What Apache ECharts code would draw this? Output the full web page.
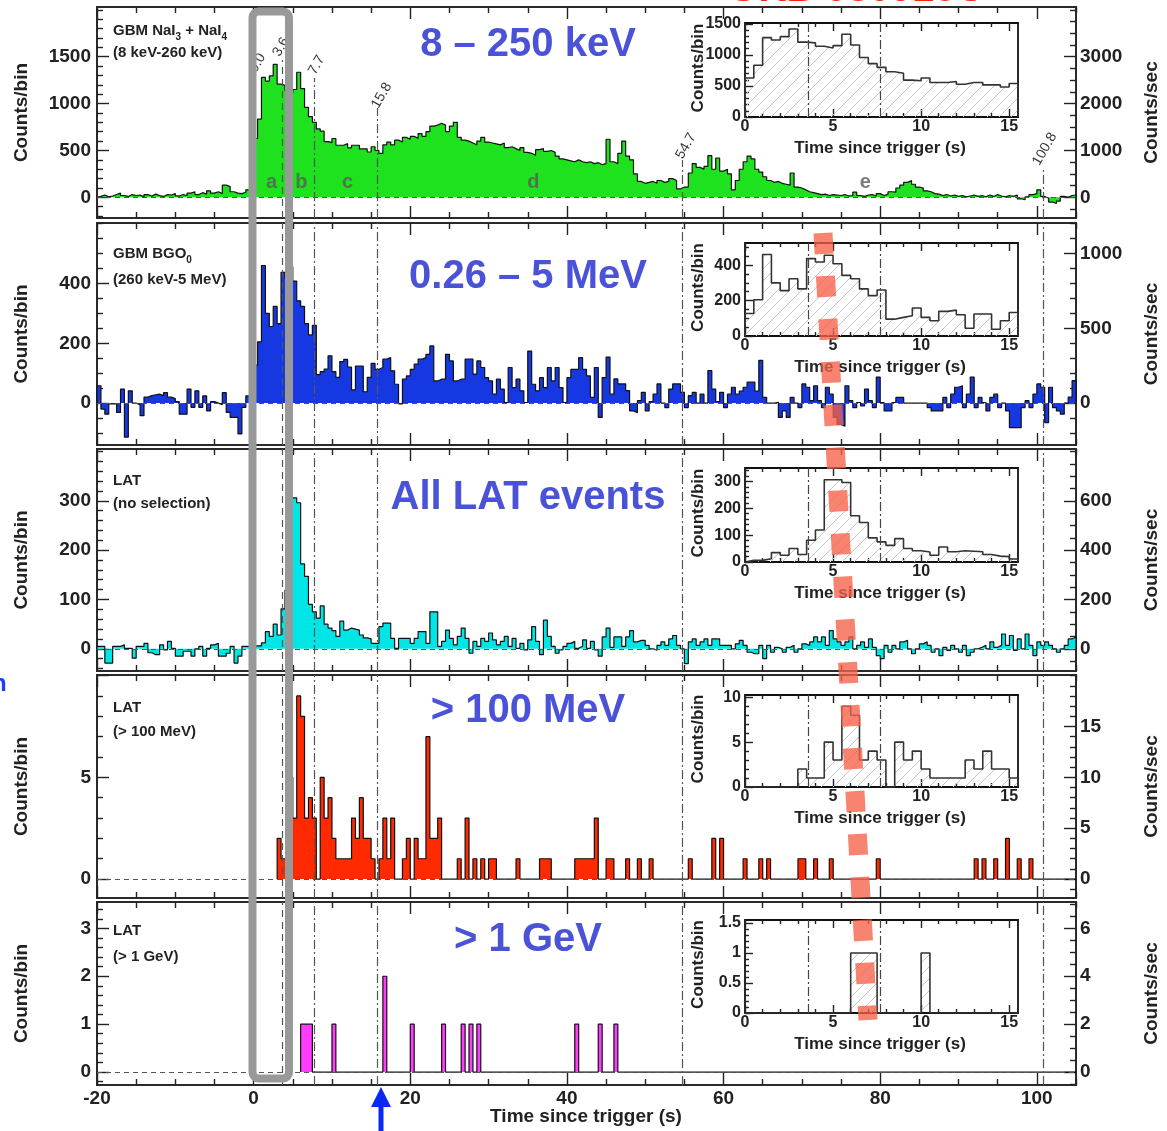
<!DOCTYPE html>
<html>
<head>
<meta charset="utf-8">
<title>GRB 080916C light curves</title>
<script src="https://cdn.jsdelivr.net/npm/echarts@6/dist/echarts.min.js"></script>
<style>
  html, body { margin: 0; padding: 0; background: #fff; }
  #main { width: 1167px; height: 1131px; }
</style>
</head>
<body>
<div id="main"></div>
<script>
// histogram bins: 0.5 s wide, first bin starts at -20 s
var binStart = -20;
var binWidth = 0.5;

// GBM NaI3 + NaI4 (8 keV - 260 keV), counts per bin
var naiCounts = [
  10, 25, 5, 15, 30, 45, 20, 10, 30, 20, 25, 5, 30, 15, 35, 20, 10, 30, 25, 40,
  15, 30, 20, 45, 60, 30, 50, 35, 70, 45, 60, 40, 130, 115, 60, 45, 40, 55, 80, 115,
  628, 834, 1279, 1240, 1295, 1418, 1207, 1195, 1140, 1112, 1150, 1334, 1160, 960, 860, 800, 730, 706, 595, 584,
  628, 556, 556, 573, 528, 556, 556, 517, 517, 484, 540, 500, 470, 560, 590, 560, 610, 590, 640, 620,
  650, 630, 680, 650, 700, 760, 770, 790, 770, 700, 760, 800, 640, 610, 600, 580, 560, 600, 640, 590,
  580, 570, 560, 580, 530, 540, 520, 500, 530, 480, 470, 450, 510, 520, 490, 500, 480, 440, 410, 400,
  390, 380, 400, 380, 370, 380, 360, 370, 350, 360, 620, 380, 360, 470, 600, 440, 400, 250, 170, 150,
  160, 170, 150, 180, 160, 170, 200, 180, 90, 110, 110, 260, 360, 320, 300, 330, 445, 300, 420, 280,
  300, 250, 80, 180, 300, 380, 440, 410, 300, 270, 220, 180, 160, 170, 150, 140, 130, 260, 110, 100,
  80, 60, 50, 40, 30, 35, 20, 30, 25, 20, 30, 15, 20, 55, 20, 10, 25, 30, 15, 40,
  20, 35, 60, 55, 100, 130, 160, 180, 140, 110, 100, 70, 60, 40, 35, 20, 30, 15, 25, 10,
  20, 5, 15, 25, 10, 20, 5, 25, 10, 30, 15, 5, 20, 10, 25, -15, -25, 5, 30, 40,
  80, 10, -10, -50, -65, -40, 10, 0, 20, 25
];

// GBM BGO0 (260 keV - 5 MeV), counts per bin
var bgoCounts = [
  58, -20, -37, -3, -3, -31, 47, -114, 41, 0, -5, -42, 20, 25, 28, 30, 25, 35, 20, 15,
  5, -37, -37, 47, -14, 41, -14, 24, -26, 5, 0, -5, 35, -31, -48, -48, -103, -14, 24, 0,
  127, 205, 460, 300, 256, 323, 266, 437, 418, 456, 408, 342, 323, 266, 228, 260, 95, 105, 114, 158,
  105, 86, 139, 146, 120, 44, 124, 124, 38, 86, 133, 113, 119, 147, 152, 108, 63, -3, 80, 91,
  113, 130, 147, 152, 163, 191, 74, 80, 80, 163, 141, 74, 80, 80, 147, 147, 97, 141, 119, 85,
  74, 30, 80, 47, 2, 119, 52, 80, 41, 2, 174, 63, 41, 85, 52, 119, 74, 119, 52, 2,
  85, 113, 113, 152, 113, 91, 19, 119, -48, 85, 154, 30, 81, 64, 64, 42, -26, -32, 8, 36,
  -26, 5, 30, 64, 0, -15, 47, 64, 64, 36, -15, 25, 36, 0, 30, 0, 109, 47, 5, 36,
  -15, 30, 53, 30, 40, 53, 70, 70, 40, 143, 19, 0, 0, 3, -48, -26, -48, 19, 0, -15,
  64, 53, 8, 58, 8, -15, 53, 30, -48, -71, -77, 58, 8, -15, 2, -9, 47, 8, -15, 87,
  2, -26, -26, 2, 19, 19, 0, 0, 0, 0, 0, 0, -15, -26, -26, -26, 19, -15, 30, 53,
  58, -15, 30, 87, -15, 19, 2, -26, 19, 30, -15, 0, -26, -82, -82, -82, -15, 8, -15, 30,
  64, 53, -65, 53, -15, -26, -37, 0, 20, 75
];

// LAT, no selection, counts per bin
var latAllCounts = [
  5, 5, -29, -29, 5, 5, 8, 1, 1, -19, 5, 5, 11, -8, -12, -12, 8, -2, 15, 1,
  -15, -15, -5, -5, -15, 0, 5, -15, 1, 8, 11, -15, -15, -9, 5, -29, -15, 5, 5, 5,
  6, 6, 12, 35, 25, 50, 28, 81, 119, 306, 306, 296, 172, 147, 90, 75, 62, 87, 50, 42,
  37, 25, 56, 38, 42, 40, 38, 28, 22, 20, 11, 11, 45, 52, 52, 21, 1, 21, 21, 21,
  11, 21, 35, 35, 11, 75, 75, 5, 15, 38, 21, 8, 25, 42, 21, -9, 15, 5, 21, 15,
  32, 18, 8, 15, 25, 5, 21, 1, 11, -2, 18, 45, 15, -12, 58, 25, 5, -9, -2, 5,
  11, 15, 1, 5, 18, 1, 15, -2, -15, 24, 42, 3, 24, 24, 5, 24, 37, 14, 17, 17,
  7, 0, -3, 7, 14, 7, 20, 27, 7, 0, -30, 14, 20, 7, 14, 20, 7, 20, 20, 7,
  7, 7, 0, 10, 17, 7, -7, -10, -10, 7, -20, 7, -7, 3, 0, -7, 3, 7, -7, 0,
  10, 7, 14, 24, 14, 24, 7, 37, 20, 14, 7, 14, 24, 0, 7, 14, 3, 20, 3, -14,
  -20, 7, -7, 7, 0, 14, 17, 0, -10, 0, 10, 14, 7, -7, 0, -14, 3, -3, 7, 0,
  -7, 7, -14, -7, 0, 3, 7, 0, 14, 3, 7, 30, 7, 27, -3, 20, 0, 30, 7, -14,
  14, 7, 14, 7, 0, -7, 0, 7, 20, 24
];

// LAT > 100 MeV, non-empty bins: [bin start (s), counts]
var lat100Bins = [
  [3.0, 2], [3.5, 1], [4.0, 1], [4.5, 5], [5.0, 3], [5.5, 9], [6.0, 8], [6.5, 3], [7.0, 4], [7.5, 3],
  [8.5, 5], [9.0, 3], [9.5, 4], [10.0, 2], [10.5, 1], [11.0, 1], [11.5, 1], [12.0, 1], [12.5, 3], [13.0, 2],
  [13.5, 4], [14.0, 2], [14.5, 2], [15.0, 1], [16.0, 1], [16.5, 3], [17.0, 1], [17.5, 3], [19.0, 1], [19.5, 2],
  [20.5, 2], [21.0, 1], [21.5, 1], [22.0, 7], [22.5, 2], [23.0, 2], [23.5, 3], [26.0, 1], [27.0, 3], [28.0, 1],
  [29.0, 1], [30.0, 1], [30.5, 1], [33.5, 1], [36.5, 1], [37.0, 1], [37.5, 1], [41.0, 1], [41.5, 1], [42.0, 1],
  [42.5, 1], [43.0, 1], [43.5, 3], [45.0, 1], [45.5, 1], [47.5, 1], [49.0, 1], [50.5, 1], [55.5, 1], [58.5, 2],
  [59.5, 2], [62.5, 1], [64.5, 1], [65.5, 1], [69.5, 1], [70.0, 1], [71.5, 1], [73.5, 1], [79.5, 1], [92.0, 1],
  [93.0, 1], [94.5, 1], [96.0, 2], [97.5, 1], [99.0, 1]
];

// LAT > 1 GeV, non-empty bins: [bin start (s), counts]
var lat1000Bins = [
  [6.0, 1], [6.5, 1], [7.0, 1], [10.0, 1], [16.5, 2], [20.0, 1], [24.0, 1], [26.5, 1], [27.5, 1], [28.5, 1],
  [41.0, 1], [44.0, 1], [46.0, 1]
];

// interval boundaries and names
var intervalEdges = [3.6, 7.7, 15.8, 54.7, 100.8];
var edgeNames = ['0.0', '3.6', '7.7', '15.8', '54.7', '100.8'];
var intervalLetters = ['a', 'b', 'c', 'd', 'e'];

// tick labels
var timeTicks = [-20, 0, 20, 40, 60, 80, 100];
var insetTimeTicks = [0, 5, 10, 15];
var naiTicks = [0, 500, 1000, 1500];
var naiRateTicks = [0, 1000, 2000, 3000];
var bgoTicks = [0, 200, 400];
var bgoRateTicks = [0, 500, 1000];
var latTicks = [0, 100, 200, 300];
var latRateTicks = [0, 200, 400, 600];
var lat100Ticks = [0, 5];
var lat100RateTicks = [0, 5, 10, 15];
var lat1000Ticks = [0, 1, 2, 3];
var lat1000RateTicks = [0, 2, 4, 6];
var naiInsetTicks = [0, 500, 1000, 1500];
var bgoInsetTicks = [0, 200, 400];
var latInsetTicks = [0, 100, 200, 300];
var lat100InsetTicks = [0, 5, 10];
var lat1000InsetTicks = [0, 0.5, 1, 1.5];

var nBins = naiCounts.length;

function fillBins(list) {
  var a = [];
  for (var i = 0; i < nBins; i++) a.push(0);
  list.forEach(function (b) { a[Math.round((b[0] - binStart) / binWidth)] = b[1]; });
  return a;
}
var lat100Counts = fillBins(lat100Bins);
var lat1000Counts = fillBins(lat1000Bins);

var FONT = "'Liberation Sans', Arial, Helvetica, sans-serif";
var INK = '#222';

var panels = [
  { counts: naiCounts, fill: '#1fe21f', top: 7, height: 211, yMin: -220, yMax: 2030,
    ticks: naiTicks, minor: 100, rateTicks: naiRateTicks, rateMinor: 250,
    name1: 'GBM NaI{s|3} + NaI{s|4}', name2: '(8 keV-260 keV)', nameY: [31, 53],
    band: '8 \u2013 250 keV', bandY: 45,
    inset: { top: 23, height: 94, yMax: 1515, ticks: naiInsetTicks, minor: 100 } },
  { counts: bgoCounts, fill: '#1538e2', top: 223, height: 222, yMin: -140, yMax: 602,
    ticks: bgoTicks, minor: 50, rateTicks: bgoRateTicks, rateMinor: 100,
    name1: 'GBM BGO{s|0}', name2: '(260 keV-5 MeV)', nameY: [254, 280],
    band: '0.26 \u2013 5 MeV', bandY: 277,
    inset: { top: 243, height: 93, yMax: 525, ticks: bgoInsetTicks, minor: 50 } },
  { counts: latAllCounts, fill: '#00e6e6', top: 449, height: 222, yMin: -45, yMax: 405,
    ticks: latTicks, minor: 20, rateTicks: latRateTicks, rateMinor: 50,
    name1: 'LAT', name2: '(no selection)', nameY: [481, 504],
    band: 'All LAT events', bandY: 498,
    inset: { top: 468, height: 94, yMax: 350, ticks: latInsetTicks, minor: 20 } },
  { counts: lat100Counts, fill: '#ff2a00', top: 675, height: 223, yMin: -0.93, yMax: 10.03,
    ticks: lat100Ticks, extraTicks: [10], minor: 1, rateTicks: lat100RateTicks, rateMinor: 1,
    name1: 'LAT', name2: '(> 100 MeV)', nameY: [708, 732],
    band: '> 100 MeV', bandY: 711, sparse: true,
    inset: { top: 695, height: 92, yMax: 10.25, ticks: lat100InsetTicks, minor: 1 } },
  { counts: lat1000Counts, fill: '#ff3cff', top: 902, height: 183, yMin: -0.27, yMax: 3.55,
    ticks: lat1000Ticks, minor: 0.2, rateTicks: lat1000RateTicks, rateMinor: 0.5,
    name1: 'LAT', name2: '(> 1 GeV)', nameY: [931, 957],
    band: '> 1 GeV', bandY: 940, sparse: true,
    inset: { top: 920, height: 93, yMax: 1.55, ticks: lat1000InsetTicks, minor: 0.1 } }
];

// top panel annotations (layout)
var edgeTops = [1465, 1272, 952, 398, 312];
var edgeNamePos = [[0.5, 1433], [3.5, 1604], [8.05, 1411], [16.35, 1085], [55.2, 547], [101.0, 515]];
var letterPos = [[2.3, 160], [6.1, 160], [12.0, 160], [35.7, 160], [78.1, 160]];

function stepsFrom(lo, hi, step, skip) {
  var out = [];
  var k0 = Math.ceil(lo / step - 1e-9), k1 = Math.floor(hi / step + 1e-9);
  for (var k = k0; k <= k1; k++) {
    var v = +(k * step).toFixed(6);
    if (skip.indexOf(v) < 0) out.push(v);
  }
  return out;
}

function histPoints(vals, from, to) {
  var pts = [[binStart + from * binWidth, 0]];
  for (var i = from; i < to; i++) pts.push([binStart + i * binWidth, vals[i]]);
  pts.push([binStart + to * binWidth, vals[to - 1]]);
  pts.push([binStart + to * binWidth, 0]);
  return pts;
}

function plainNumber(v) { return String(+(+v).toFixed(6)); }

function addAxis(list, o) {
  list.push({
    type: 'value', gridIndex: o.grid, position: o.pos, min: o.min, max: o.max,
    axisLine: { show: false, onZero: false },
    splitLine: { show: false },
    axisTick: { show: true, inside: true, length: o.len, customValues: o.ticks,
      lineStyle: { color: INK, width: 1.4 } },
    axisLabel: o.labels ? { show: true, customValues: o.labels, margin: o.margin, formatter: plainNumber,
      fontFamily: FONT, fontWeight: 'bold', fontSize: o.size, color: INK } : { show: false }
  });
  return list.length - 1;
}

function txt(x, y, s, size, rot, align, color) {
  return { type: 'text', x: x, y: y, rotation: rot || 0, z: 50, silent: true,
    style: { text: s, fontFamily: FONT, fontWeight: 'bold', fontSize: size, fill: color || INK,
      align: align || 'center', verticalAlign: 'middle',
      textAlign: align || 'center', textVerticalAlign: 'middle' } };
}

var hatch = document.createElement('canvas');
hatch.width = 12; hatch.height = 12;
var hctx = hatch.getContext('2d');
hctx.strokeStyle = '#c6c6c6';
hctx.lineWidth = 1;
hctx.beginPath();
hctx.moveTo(0, 12); hctx.lineTo(12, 0);
hctx.moveTo(-3, 3); hctx.lineTo(3, -3);
hctx.moveTo(9, 15); hctx.lineTo(15, 9);
hctx.stroke();

var grids = [], xAxes = [], yAxes = [], series = [], graphics = [];
var dashDot = [9, 3, 2, 3];
var dashed = [7, 5];

panels.forEach(function (p, i) {
  var g = grids.length;
  grids.push({ left: 97, top: p.top, width: 979, height: p.height, show: true,
    borderColor: '#2a2a2a', borderWidth: 2, outerBoundsMode: 'none' });
  var last = i === panels.length - 1;
  var xMinor = stepsFrom(-20, 105, 5, timeTicks);
  var xi = addAxis(xAxes, { grid: g, pos: 'bottom', min: -20, max: 105, ticks: timeTicks, len: 12,
    labels: last ? timeTicks : null, margin: 4, size: 19 });
  addAxis(xAxes, { grid: g, pos: 'bottom', min: -20, max: 105, ticks: xMinor, len: 6 });
  addAxis(xAxes, { grid: g, pos: 'top', min: -20, max: 105, ticks: timeTicks, len: 12 });
  addAxis(xAxes, { grid: g, pos: 'top', min: -20, max: 105, ticks: xMinor, len: 6 });

  var yMajor = p.ticks.concat(p.extraTicks || []);
  var yi = addAxis(yAxes, { grid: g, pos: 'left', min: p.yMin, max: p.yMax, ticks: yMajor, len: 12,
    labels: p.ticks, margin: 6, size: 19 });
  addAxis(yAxes, { grid: g, pos: 'left', min: p.yMin, max: p.yMax,
    ticks: stepsFrom(p.yMin, p.yMax, p.minor, yMajor), len: 6 });
  addAxis(yAxes, { grid: g, pos: 'right', min: 2 * p.yMin, max: 2 * p.yMax, ticks: p.rateTicks, len: 12,
    labels: p.rateTicks, margin: 4, size: 19 });
  addAxis(yAxes, { grid: g, pos: 'right', min: 2 * p.yMin, max: 2 * p.yMax,
    ticks: stepsFrom(2 * p.yMin, 2 * p.yMax, p.rateMinor, p.rateTicks), len: 6 });

  // first drawn bin
  var from = 0;
  if (p.sparse) { while (from < nBins && p.counts[from] === 0) from++; }

  var marks = [{ yAxis: 0, lineStyle: { color: '#555', type: [5, 4], width: 1 } }];
  intervalEdges.forEach(function (t, k) {
    var hi = i === 0 ? edgeTops[k] : p.yMax;
    marks.push([{ coord: [t, p.yMin], lineStyle: { color: '#555', width: 1.2, type: k === 0 ? dashed : dashDot } },
      { coord: [t, hi] }]);
  });

  series.push({
    type: 'line', xAxisIndex: xi, yAxisIndex: yi, data: histPoints(p.counts, from, nBins),
    step: 'end', symbol: 'none', silent: true, animation: false, z: 2,
    lineStyle: { color: '#111', width: 1.2 },
    areaStyle: { color: p.fill, opacity: 1 },
    markLine: { silent: true, animation: false, symbol: ['none', 'none'], label: { show: false }, data: marks }
  });

  if (i === 0) {
    series.push({
      type: 'scatter', xAxisIndex: xi, yAxisIndex: yi, symbolSize: 1, silent: true, animation: false, z: 6,
      itemStyle: { color: 'rgba(0,0,0,0)' },
      data: edgeNames.map(function (n, k) { return { name: n, value: edgeNamePos[k] }; }),
      label: { show: true, position: 'inside', rotate: 60, formatter: '{b}',
        fontFamily: FONT, fontSize: 14, color: '#000' }
    });
    series.push({
      type: 'scatter', xAxisIndex: xi, yAxisIndex: yi, symbolSize: 1, silent: true, animation: false, z: 6,
      itemStyle: { color: 'rgba(0,0,0,0)' },
      data: intervalLetters.map(function (n, k) { return { name: n, value: letterPos[k] }; }),
      label: { show: true, position: 'inside', formatter: '{b}',
        fontFamily: FONT, fontWeight: 'bold', fontSize: 20, color: '#5a5a5a' }
    });
  }

  // inset: zoom on 0 - 15.5 s
  var ins = p.inset;
  var gi = grids.length;
  grids.push({ left: 745, top: ins.top, width: 273, height: ins.height, show: true,
    borderColor: '#111', borderWidth: 1.8, outerBoundsMode: 'none' });
  var ixMinor = stepsFrom(0, 15.5, 1, insetTimeTicks);
  var ixi = addAxis(xAxes, { grid: gi, pos: 'bottom', min: 0, max: 15.5, ticks: insetTimeTicks, len: 8,
    labels: insetTimeTicks, margin: 2, size: 16 });
  addAxis(xAxes, { grid: gi, pos: 'bottom', min: 0, max: 15.5, ticks: ixMinor, len: 4 });
  addAxis(xAxes, { grid: gi, pos: 'top', min: 0, max: 15.5, ticks: insetTimeTicks, len: 8 });
  addAxis(xAxes, { grid: gi, pos: 'top', min: 0, max: 15.5, ticks: ixMinor, len: 4 });
  var iyi = addAxis(yAxes, { grid: gi, pos: 'left', min: 0, max: ins.yMax, ticks: ins.ticks, len: 8,
    labels: ins.ticks, margin: 4, size: 16 });
  addAxis(yAxes, { grid: gi, pos: 'left', min: 0, max: ins.yMax,
    ticks: stepsFrom(0, ins.yMax, ins.minor, ins.ticks), len: 4 });

  var i0 = Math.round((0 - binStart) / binWidth);
  var i1 = Math.round((15.5 - binStart) / binWidth);
  series.push({
    type: 'line', xAxisIndex: ixi, yAxisIndex: iyi, data: histPoints(p.counts, i0, i1),
    step: 'end', symbol: 'none', silent: true, animation: false,
    lineStyle: { color: '#333', width: 1.6 },
    areaStyle: { color: { image: hatch, repeat: 'repeat' }, opacity: 1 },
    markLine: { silent: true, animation: false, symbol: ['none', 'none'], label: { show: false },
      data: intervalEdges.slice(0, 2).map(function (t) {
        return [{ coord: [t, 0], lineStyle: { color: '#444', width: 1.2, type: dashDot } }, { coord: [t, ins.yMax] }];
      }) }
  });

  // texts
  var mid = p.top + p.height / 2;
  graphics.push(txt(22, mid, 'Counts/bin', 19, Math.PI / 2));
  graphics.push(txt(1152, mid, 'Counts/sec', 19, Math.PI / 2));
  graphics.push({ type: 'text', x: 113, y: p.nameY[0], z: 50, silent: true,
    style: { text: p.name1, fontFamily: FONT, fontWeight: 'bold', fontSize: 15, fill: INK,
      align: 'left', verticalAlign: 'middle', textAlign: 'left', textVerticalAlign: 'middle',
      rich: { s: { fontFamily: FONT, fontWeight: 'bold', fontSize: 10, fill: INK,
        verticalAlign: 'bottom', lineHeight: 22 } } } });
  graphics.push(txt(113, p.nameY[1], p.name2, 15, 0, 'left'));
  graphics.push(txt(528, p.bandY, p.band, 40, 0, 'center', '#4a52d8'));
  graphics.push(txt(698, ins.top + ins.height / 2 - 2, 'Counts/bin', 17, Math.PI / 2));
  graphics.push(txt(880, ins.top + ins.height + 31, 'Time since trigger (s)', 17));
});

graphics.push(txt(586, 1117, 'Time since trigger (s)', 19));

// overlay annotations
graphics.push(txt(856, -9.5, 'GRB 080916C', 39, 0, 'center', '#ff2200'));
graphics.push(txt(-8, 684, 'n', 24, 0, 'left', '#1e3cff'));
graphics.push({ type: 'rect', z: 110, silent: true,
  shape: { x: 252.5, y: 11.5, width: 36.5, height: 1067, r: 6 },
  style: { fill: 'none', stroke: '#999', lineWidth: 8 } });
graphics.push({ type: 'line', z: 120, silent: true,
  shape: { x1: 823, y1: 233, x2: 868, y2: 1020 },
  style: { stroke: 'rgba(246,96,72,0.78)', lineWidth: 19, lineDash: [21, 22] } });
graphics.push({ type: 'line', z: 115, silent: true,
  shape: { x1: 381, y1: 1131, x2: 381, y2: 1104 },
  style: { stroke: '#0a28f5', lineWidth: 5 } });
graphics.push({ type: 'polygon', z: 115, silent: true,
  shape: { points: [[371, 1107], [381, 1087], [391, 1107]] },
  style: { fill: '#0a28f5' } });

var chart = echarts.init(document.getElementById('main'));
chart.setOption({
  animation: false,
  backgroundColor: '#fff',
  grid: grids,
  xAxis: xAxes,
  yAxis: yAxes,
  series: series,
  graphic: { elements: graphics }
});
</script>
</body>
</html>
